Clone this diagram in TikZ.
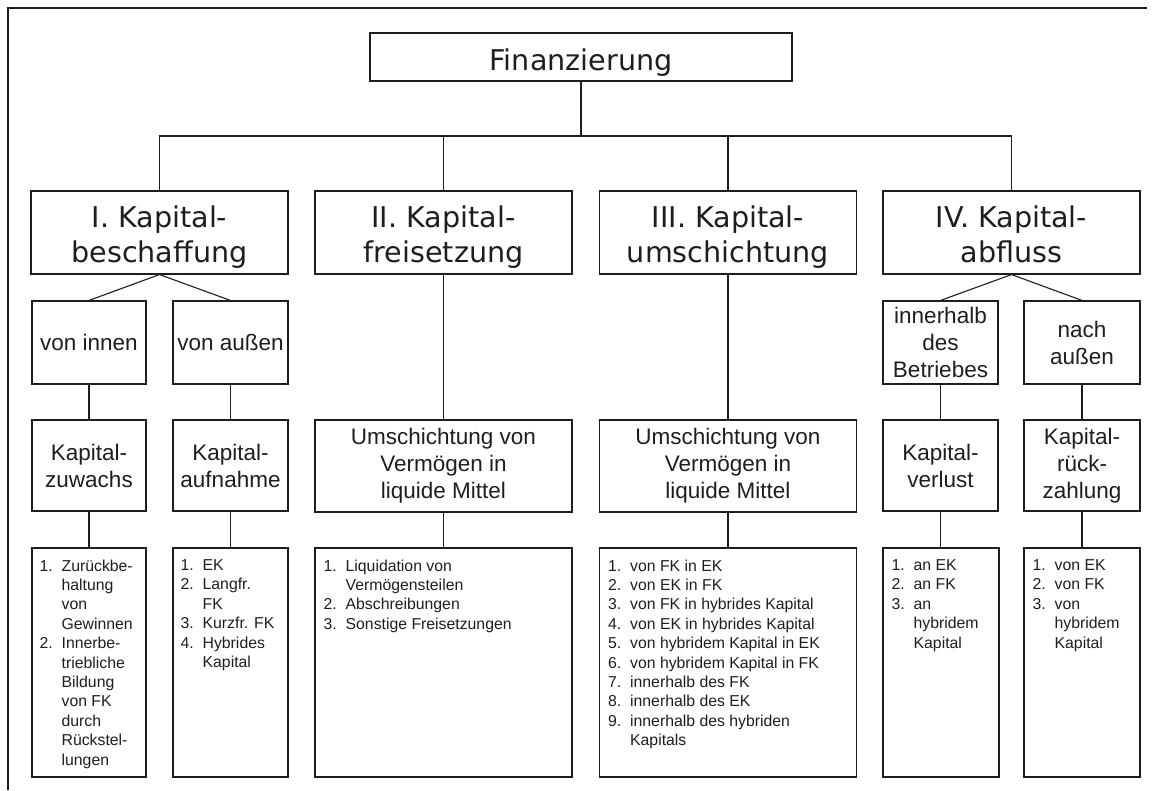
\documentclass[tikz,border=0pt]{standalone}
\usepackage{fontspec}
\setmainfont{Liberation Sans}
\newfontfamily\titlefont{DejaVu Sans}
\usetikzlibrary{positioning}

\definecolor{ink}{RGB}{30,30,30}

\newcommand{\nr}[1]{\makebox[22pt][l]{#1}}
\newcommand{\nx}{\hspace*{22pt}}

\tikzset{
	box/.style = {draw = ink, line width = 1.1pt, inner sep = 0pt, align = center, text = ink},
	headbox/.style = {box, font = \titlefont\fontsize{28.6}{35}\selectfont, minimum width = 257pt, minimum height = 83pt, text height = 66pt, text depth = 7pt},
	subbox/.style = {box, font = \fontsize{22.5}{27}\selectfont, minimum height = 83pt},
	listbox/.style = {box, minimum height = 229pt},
	listtext/.style = {inner sep = 0pt, anchor = north west, align = left, text = ink, font = \fontsize{15.8}{19.4}\selectfont},
	link/.style = {draw = ink, line width = 1.1pt}
}

\begin{document}
\begin{tikzpicture}[x = 1pt, y = -1pt]

	\useasboundingbox (0, 0) rectangle (1156, 790);
	\draw [link] (8, 790) -- (8, 8) -- (1147, 8);

	\node [headbox, minimum width = 422pt, minimum height = 48pt, text height = 33pt, text depth = 7pt] (fin) at (581, 57) {Finanzierung};

	\node [headbox] (capI) at (159.5, 232.5) {I. Kapital-\\beschaffung};
	\node [headbox] (capII) at (443.5, 232.5) {II. Kapital-\\freisetzung};
	\node [headbox] (capIII) at (728, 232.5) {III. Kapital-\\umschichtung};
	\node [headbox] (capIV) at (1011.5, 232.5) {IV. Kapital-\\abfluss};

	\coordinate (split) at (581, 136);

	\draw [link] (fin) -- (split);
	\draw [link] (capI.north) |- (split) -| (capIV.north);
	\draw [link] (capII.north) -- (capII.north |- split);
	\draw [link] (capIII.north) -- (capIII.north |- split);

	% I. Kapitalbeschaffung
	\node [subbox, minimum width = 114pt] (innen) at (89, 342.5) {von innen};
	\node [subbox, minimum width = 115pt] (aussen) at (230.5, 342.5) {von außen};
	\node [subbox, minimum width = 114pt, minimum height = 91pt] (zuwachs) at (89, 465.5) {Kapital-\\zuwachs};
	\node [subbox, minimum width = 115pt, minimum height = 91pt] (aufnahme) at (230.5, 465.5) {Kapital-\\aufnahme};
	\node [listbox, minimum width = 114pt] (lstI1) at (89, 662.5) {};
	\node [listbox, minimum width = 115pt] (lstI2) at (230.5, 662.5) {};

	\draw [link] (capI.south) -- (innen.north);
	\draw [link] (capI.south) -- (aussen.north);
	\draw [link] (innen) -- (zuwachs);
	\draw [link] (aussen) -- (aufnahme);
	\draw [link] (zuwachs) -- (lstI1);
	\draw [link] (aufnahme) -- (lstI2);

	\node [listtext] (txtI1) at ([shift = {(8pt, -12pt)}] lstI1.north west)
		{\nr{1.}Zurückbe-\\\nx haltung\\\nx von\\\nx Gewinnen\\\nr{2.}Innerbe-\\\nx triebliche\\\nx Bildung\\\nx von FK\\\nx durch\\\nx Rückstel-\\\nx lungen};
	\node [listtext] (txtI2) at ([shift = {(8pt, -12pt)}] lstI2.north west)
		{\nr{1.}EK\\\nr{2.}Langfr.\\\nx FK\\\nr{3.}Kurzfr. FK\\\nr{4.}Hybrides\\\nx Kapital};

	% II. Kapitalfreisetzung
	\node [subbox, minimum width = 257pt, minimum height = 92pt] (umschII) at (443.5, 466) {Umschichtung von\\Vermögen in\\liquide Mittel};
	\node [listbox, minimum width = 257pt] (lstII) at (443.5, 662.5) {};

	\draw [link] (capII) -- (umschII);
	\draw [link] (umschII) -- (lstII);

	\node [listtext] (txtII) at ([shift = {(9pt, -12pt)}] lstII.north west)
		{\nr{1.}Liquidation von\\\nx Vermögensteilen\\\nr{2.}Abschreibungen\\\nr{3.}Sonstige Freisetzungen};

	% III. Kapitalumschichtung
	\node [subbox, minimum width = 257pt, minimum height = 92pt] (umschIII) at (728, 466) {Umschichtung von\\Vermögen in\\liquide Mittel};
	\node [listbox, minimum width = 257pt] (lstIII) at (728, 662.5) {};

	\draw [link] (capIII) -- (umschIII);
	\draw [link] (umschIII) -- (lstIII);

	\node [listtext] (txtIII) at ([shift = {(9pt, -12pt)}] lstIII.north west)
		{\nr{1.}von FK in EK\\\nr{2.}von EK in FK\\\nr{3.}von FK in hybrides Kapital\\\nr{4.}von EK in hybrides Kapital\\\nr{5.}von hybridem Kapital in EK\\\nr{6.}von hybridem Kapital in FK\\\nr{7.}innerhalb des FK\\\nr{8.}innerhalb des EK\\\nr{9.}innerhalb des hybriden\\\nx Kapitals};

	% IV. Kapitalabfluss
	\node [subbox, minimum width = 115pt] (betrieb) at (940.5, 342.5) {innerhalb\\des\\Betriebes};
	\node [subbox, minimum width = 116pt] (nach) at (1082, 342.5) {nach\\außen};
	\node [subbox, minimum width = 115pt, minimum height = 91pt] (verlust) at (940.5, 465.5) {Kapital-\\verlust};
	\node [subbox, minimum width = 116pt, minimum height = 91pt] (rueck) at (1082, 465.5) {Kapital-\\rück-\\zahlung};
	\node [listbox, minimum width = 116pt] (lstIV1) at (941, 662.5) {};
	\node [listbox, minimum width = 116pt] (lstIV2) at (1082, 662.5) {};

	\draw [link] (capIV.south) -- (betrieb.north);
	\draw [link] (capIV.south) -- (nach.north);
	\draw [link] (betrieb) -- (verlust);
	\draw [link] (nach) -- (rueck);
	\draw [link] (verlust.south) -- (verlust.south |- lstIV1.north);
	\draw [link] (rueck) -- (lstIV2);

	\node [listtext] (txtIV1) at ([shift = {(9pt, -12pt)}] lstIV1.north west)
		{\nr{1.}an EK\\\nr{2.}an FK\\\nr{3.}an\\\nx hybridem\\\nx Kapital};
	\node [listtext] (txtIV2) at ([shift = {(9pt, -12pt)}] lstIV2.north west)
		{\nr{1.}von EK\\\nr{2.}von FK\\\nr{3.}von\\\nx hybridem\\\nx Kapital};

\end{tikzpicture}
\end{document}
